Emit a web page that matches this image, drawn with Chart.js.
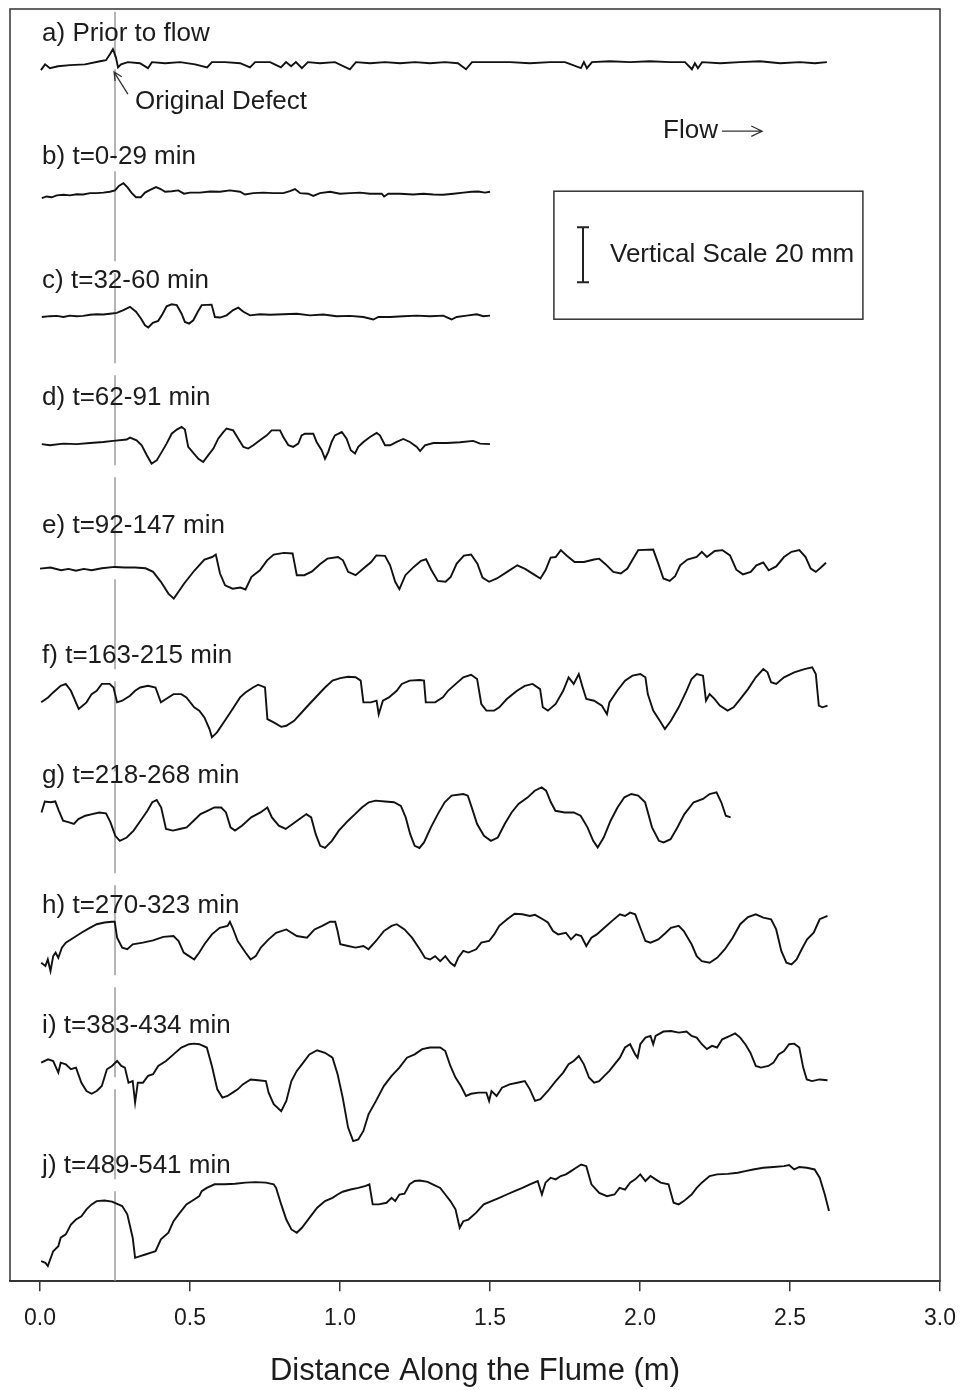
<!DOCTYPE html>
<html>
<head>
<meta charset="utf-8">
<script src="https://cdn.jsdelivr.net/npm/chart.js@4.4.1/dist/chart.umd.min.js"></script>
<style>
  html, body { margin: 0; padding: 0; background: #fff; }
</style>
</head>
<body>
<canvas id="flume" width="960" height="1390"></canvas>
<script>
// bed profiles, [distance m, elevation mm relative to the profile datum]
const profA = [[0.003,-2.5],[0.017,-0.4],[0.033,-1.8],[0.06,-1.1],[0.10,-0.7],[0.15,-0.4],[0.20,0.7],[0.22,1.1],[0.233,3.3],[0.243,5.1],[0.253,2.2],[0.26,-1.5],[0.27,-0.4],[0.293,0.4],[0.333,0],[0.36,-1.8],[0.373,0.4],[0.417,0],[0.467,0.4],[0.517,-0.4],[0.557,-1.5],[0.573,0.4],[0.617,0.4],[0.667,0],[0.70,-1.5],[0.717,0.4],[0.767,0.4],[0.803,-1.5],[0.82,0.4],[0.837,-1.1],[0.853,0.4],[0.873,-1.8],[0.893,0.4],[0.933,0],[0.983,0.4],[1.033,-2.2],[1.053,0.4],[1.10,0],[1.15,0.4],[1.20,0],[1.25,0.4],[1.30,0],[1.35,0.4],[1.393,0],[1.42,-2.2],[1.44,0.4],[1.50,0.4],[1.567,0.4],[1.633,0],[1.70,0.4],[1.75,0.4],[1.803,-1.8],[1.813,0.4],[1.823,-1.8],[1.84,0.4],[1.90,0.7],[1.967,0.4],[2.033,0.7],[2.10,0.4],[2.15,0.4],[2.173,-2.2],[2.183,0],[2.193,-1.8],[2.207,0.4],[2.267,0],[2.333,0.4],[2.40,0.7],[2.467,0],[2.533,0.4],[2.583,0],[2.623,0.4]];
const profB = [[0.006,-1.8],[0.022,-1.2],[0.039,-1.5],[0.056,-0.8],[0.078,-0.6],[0.1,-0.8],[0.122,-0.4],[0.144,-0.5],[0.167,0],[0.189,0],[0.211,0.2],[0.233,0.5],[0.25,1.0],[0.264,2.7],[0.278,3.6],[0.291,2.2],[0.306,0],[0.32,-1.5],[0.336,-1.5],[0.35,0.2],[0.367,1.2],[0.387,2.2],[0.402,1.5],[0.417,0.5],[0.439,0.7],[0.461,1.0],[0.48,-0.2],[0.5,0.2],[0.533,0.2],[0.567,0.6],[0.6,0.5],[0.633,1.0],[0.667,0.5],[0.683,-0.5],[0.711,0],[0.744,0.2],[0.778,0],[0.811,0],[0.833,0.7],[0.85,1.5],[0.867,0],[0.894,-0.2],[0.911,-1.0],[0.933,0],[0.967,0.5],[1.0,-0.2],[1.033,0],[1.067,0.2],[1.1,-0.2],[1.139,-0.2],[1.147,-1.2],[1.161,-0.2],[1.2,-0.2],[1.244,-0.5],[1.278,-0.2],[1.311,-0.5],[1.344,-0.6],[1.378,-0.2],[1.411,0.2],[1.439,0.5],[1.461,0.6],[1.483,0.2],[1.5,0.5]];
const profC = [[0.006,-0.4],[0.033,-0.1],[0.056,0],[0.078,-0.4],[0.1,0.1],[0.122,-0.1],[0.144,0],[0.167,0.4],[0.189,0.6],[0.211,0.5],[0.233,0.8],[0.256,1.1],[0.278,2.1],[0.3,3.3],[0.32,1.5],[0.337,-1.0],[0.35,-3.4],[0.361,-4.2],[0.376,-2.5],[0.394,-1.8],[0.409,0.8],[0.422,3.5],[0.439,4.2],[0.456,3.9],[0.472,0.8],[0.483,-2.2],[0.497,-2.8],[0.511,-1.6],[0.526,1.5],[0.539,3.9],[0.572,4.1],[0.583,-0.4],[0.6,-0.6],[0.622,0.2],[0.644,2.1],[0.661,3.0],[0.678,1.5],[0.7,0.2],[0.733,0.6],[0.767,0.4],[0.811,0.6],[0.856,0.8],[0.9,0.2],[0.944,0.5],[0.989,-0.1],[1.033,0],[1.078,-0.4],[1.111,-1.3],[1.128,-0.4],[1.167,-0.4],[1.211,-0.1],[1.256,0.1],[1.3,-0.1],[1.344,0.1],[1.372,-1.3],[1.389,-0.4],[1.422,0.1],[1.456,0.6],[1.478,-0.1],[1.5,0.1]];
const profD = [[0.006,-0.2],[0.033,-0.6],[0.078,0],[0.122,-0.2],[0.167,0.2],[0.211,0.6],[0.244,1.0],[0.289,1.5],[0.3,2.2],[0.322,1.2],[0.339,-0.6],[0.356,-4.2],[0.372,-7.3],[0.389,-6.1],[0.406,-3.0],[0.422,0],[0.439,3.6],[0.456,5.1],[0.472,6.1],[0.483,5.1],[0.494,-1.2],[0.511,-3.4],[0.528,-5.5],[0.544,-6.7],[0.561,-4.2],[0.578,-1.8],[0.594,1.8],[0.611,4.2],[0.622,5.5],[0.644,4.8],[0.661,1.8],[0.678,-1.2],[0.694,-1.8],[0.711,-0.6],[0.733,1.2],[0.756,3.0],[0.772,4.8],[0.8,4.8],[0.811,2.4],[0.828,-0.6],[0.844,-1.2],[0.861,0],[0.872,3.0],[0.883,3.6],[0.911,3.6],[0.922,0.6],[0.939,-2.4],[0.95,-5.5],[0.961,-3.0],[0.972,0.6],[0.983,3.0],[1.006,4.2],[1.022,1.8],[1.036,-2.4],[1.05,-3.6],[1.061,-1.2],[1.078,0.6],[1.1,2.4],[1.122,3.9],[1.133,3.0],[1.15,-0.6],[1.167,-0.6],[1.189,0.6],[1.211,1.7],[1.233,0.6],[1.256,-1.2],[1.267,-2.7],[1.283,-0.6],[1.311,0.2],[1.356,0.2],[1.4,0.5],[1.444,1.0],[1.467,0],[1.5,-0.2]];
const profE = [[0.0,0],[0.035,0.4],[0.07,-0.6],[0.095,-0.1],[0.12,-0.8],[0.146,-0.1],[0.172,-0.6],[0.206,0.1],[0.249,0.6],[0.283,0.4],[0.317,0.4],[0.352,0.1],[0.377,-1.2],[0.403,-4.8],[0.428,-9.1],[0.446,-10.9],[0.48,-5.5],[0.514,-0.8],[0.548,3.3],[0.574,4.2],[0.586,5.1],[0.6,-1.8],[0.617,-6.1],[0.642,-7.3],[0.668,-6.9],[0.685,-7.6],[0.705,-3.0],[0.733,-0.6],[0.757,3.0],[0.779,5.1],[0.813,5.7],[0.842,5.5],[0.856,-2.4],[0.881,-2.4],[0.907,-1.0],[0.933,1.6],[0.958,3.6],[0.993,4.2],[1.01,3.0],[1.027,-1.2],[1.052,-2.4],[1.078,0],[1.104,2.4],[1.121,4.8],[1.15,4.6],[1.167,1.2],[1.184,-4.8],[1.198,-7.5],[1.218,-2.4],[1.246,0.6],[1.27,2.8],[1.287,3.4],[1.304,-0.4],[1.326,-4.5],[1.352,-4.8],[1.369,-3.0],[1.389,1.8],[1.413,4.7],[1.437,5.1],[1.458,1.8],[1.475,-3.3],[1.497,-4.8],[1.523,-3.6],[1.557,-1.2],[1.591,1.2],[1.617,-0.1],[1.646,-2.1],[1.668,-3.6],[1.685,-0.6],[1.702,4.0],[1.719,4.2],[1.736,6.7],[1.757,4.6],[1.782,2.4],[1.813,2.4],[1.847,3.3],[1.864,3.6],[1.885,1.6],[1.911,-1.2],[1.936,-1.8],[1.958,0],[1.977,3.6],[1.994,6.7],[2.044,6.9],[2.061,1.8],[2.078,-3.6],[2.099,-4.5],[2.117,-2.8],[2.134,1.2],[2.158,3.3],[2.189,4.2],[2.206,6.1],[2.223,4.2],[2.249,6.4],[2.275,6.7],[2.3,4.8],[2.321,-0.4],[2.343,-2.1],[2.369,-1.2],[2.388,1.2],[2.411,2.2],[2.429,-0.6],[2.454,0.8],[2.48,4.2],[2.505,6.1],[2.531,6.7],[2.552,4.2],[2.569,0],[2.586,-1.2],[2.603,0.4],[2.62,2.1]];
const profF = [[0.004,-1.2],[0.027,0.6],[0.044,2.4],[0.069,4.8],[0.086,5.5],[0.103,3.0],[0.129,-3.6],[0.155,-1.2],[0.172,1.8],[0.189,3.0],[0.206,5.5],[0.232,5.5],[0.245,4.2],[0.257,-1.2],[0.274,-0.6],[0.3,1.2],[0.317,3.0],[0.334,4.2],[0.36,4.8],[0.385,4.2],[0.403,-1.2],[0.42,0],[0.445,1.8],[0.471,1.8],[0.488,0.6],[0.514,-3.0],[0.531,-4.2],[0.548,-6.7],[0.565,-10.9],[0.573,-13.9],[0.59,-12.1],[0.616,-7.9],[0.642,-3.6],[0.667,0.6],[0.685,2.4],[0.71,4.2],[0.727,5.2],[0.75,4.2],[0.758,-7.3],[0.779,-8.5],[0.804,-10.1],[0.821,-9.7],[0.847,-7.9],[0.873,-4.8],[0.898,-1.8],[0.924,1.2],[0.95,4.2],[0.975,6.7],[1.001,7.6],[1.027,8.1],[1.052,7.9],[1.069,6.7],[1.078,-1.2],[1.103,-1.2],[1.122,-0.6],[1.129,-5.5],[1.143,-0.6],[1.163,0.6],[1.189,3.0],[1.206,5.5],[1.232,6.7],[1.266,6.9],[1.28,6.7],[1.286,-1.2],[1.317,-1.2],[1.343,0.6],[1.36,3.0],[1.386,5.5],[1.411,7.9],[1.437,8.8],[1.457,7.3],[1.471,-1.8],[1.488,-4.2],[1.514,-4.2],[1.531,-3.0],[1.556,0],[1.59,3.0],[1.616,4.8],[1.642,5.5],[1.667,3.6],[1.676,-3.0],[1.693,-4.2],[1.719,-1.8],[1.744,3.0],[1.762,7.9],[1.779,5.5],[1.796,9.1],[1.809,4.2],[1.821,0],[1.847,-0.6],[1.873,-2.4],[1.89,-5.5],[1.898,-1.2],[1.924,3.0],[1.95,6.7],[1.975,8.5],[2.001,9.1],[2.018,7.9],[2.026,1.8],[2.044,-4.2],[2.066,-7.9],[2.083,-10.9],[2.103,-7.9],[2.129,-3.0],[2.155,3.0],[2.172,7.3],[2.189,9.1],[2.21,8.5],[2.22,-0.6],[2.232,1.8],[2.249,0],[2.266,-2.4],[2.292,-4.2],[2.312,-3.0],[2.334,0],[2.36,3.6],[2.386,7.9],[2.411,10.9],[2.425,9.7],[2.437,6.1],[2.454,5.5],[2.48,7.9],[2.514,9.7],[2.548,10.9],[2.574,11.5],[2.586,9.1],[2.596,-2.4],[2.608,-3.0],[2.625,-2.4]];
const profG = [[0.005,2.4],[0.016,6.4],[0.036,6.1],[0.051,6.4],[0.063,3.0],[0.077,-0.6],[0.097,-1.2],[0.113,-1.8],[0.128,0],[0.151,1.2],[0.174,1.8],[0.197,2.4],[0.22,2.1],[0.235,-1.2],[0.251,-6.1],[0.266,-7.9],[0.289,-6.7],[0.312,-4.2],[0.335,-0.6],[0.358,3.0],[0.374,6.1],[0.389,6.9],[0.404,4.2],[0.42,-3.6],[0.443,-4.2],[0.466,-3.6],[0.489,-3.0],[0.512,-0.6],[0.535,1.8],[0.558,3.0],[0.581,4.2],[0.604,4.2],[0.62,2.4],[0.635,-3.0],[0.65,-4.2],[0.673,-2.4],[0.704,0.6],[0.735,2.4],[0.758,4.2],[0.773,0.6],[0.796,-2.4],[0.819,-3.6],[0.842,-1.8],[0.865,0],[0.888,1.8],[0.904,0.6],[0.919,-5.5],[0.934,-9.7],[0.95,-10.5],[0.973,-7.9],[0.996,-4.2],[1.027,-0.6],[1.05,1.8],[1.073,4.2],[1.096,6.1],[1.119,6.7],[1.15,6.4],[1.18,6.1],[1.203,4.8],[1.219,0.6],[1.234,-5.5],[1.249,-9.7],[1.265,-10.5],[1.28,-8.5],[1.303,-3.0],[1.326,1.8],[1.349,6.1],[1.372,8.5],[1.411,9.1],[1.426,8.5],[1.441,3.6],[1.457,-1.8],[1.48,-6.1],[1.503,-7.9],[1.526,-6.7],[1.549,-1.8],[1.572,2.4],[1.595,5.5],[1.626,7.9],[1.649,10.3],[1.672,11.5],[1.687,10.3],[1.703,6.1],[1.718,3.0],[1.749,2.4],[1.779,2.4],[1.802,1.2],[1.825,-3.0],[1.844,-7.9],[1.859,-10.3],[1.879,-6.7],[1.902,-0.6],[1.925,4.2],[1.948,7.9],[1.971,9.1],[1.994,8.5],[2.017,6.1],[2.04,-3.0],[2.063,-7.9],[2.079,-8.5],[2.102,-7.3],[2.125,-3.0],[2.148,1.8],[2.179,6.1],[2.21,7.3],[2.232,9.1],[2.255,9.7],[2.271,6.1],[2.286,1.2],[2.302,0.6]];
const profH = [[0.004,-7.9],[0.018,-9.1],[0.026,-6.7],[0.035,-10.9],[0.044,-5.5],[0.052,-4.2],[0.061,-6.1],[0.073,-2.4],[0.086,-0.6],[0.112,1.2],[0.138,3.0],[0.163,4.6],[0.189,6.1],[0.215,6.7],[0.24,7.0],[0.249,7.0],[0.257,1.2],[0.274,-2.4],[0.291,-3.0],[0.309,-1.2],[0.343,-0.6],[0.377,0.2],[0.411,1.5],[0.445,1.8],[0.462,0],[0.479,-4.2],[0.497,-5.5],[0.514,-6.7],[0.531,-4.2],[0.548,-1.2],[0.573,2.4],[0.599,4.8],[0.625,5.5],[0.633,7.0],[0.642,4.8],[0.659,0],[0.685,-4.2],[0.702,-6.7],[0.719,-5.5],[0.736,-2.4],[0.762,0.6],[0.787,3.0],[0.821,4.2],[0.856,1.8],[0.89,1.2],[0.915,4.2],[0.941,5.5],[0.967,7.0],[0.984,7.0],[0.992,3.6],[1.001,-1.2],[1.027,-1.8],[1.052,-2.4],[1.078,-1.8],[1.095,-3.0],[1.12,0],[1.146,3.6],[1.172,5.5],[1.189,6.1],[1.215,4.2],[1.24,1.2],[1.266,-3.0],[1.283,-6.1],[1.3,-6.7],[1.317,-5.5],[1.334,-7.3],[1.351,-5.5],[1.368,-7.9],[1.382,-9.1],[1.394,-6.1],[1.411,-3.6],[1.428,-4.2],[1.454,-3.0],[1.471,-0.6],[1.497,0],[1.514,2.4],[1.531,5.5],[1.557,7.9],[1.582,9.9],[1.608,9.7],[1.633,9.1],[1.65,9.5],[1.676,7.9],[1.693,6.7],[1.71,3.6],[1.727,2.4],[1.753,3.0],[1.77,0.6],[1.787,2.4],[1.804,1.8],[1.821,-1.8],[1.838,1.2],[1.856,2.4],[1.881,4.8],[1.907,7.3],[1.933,9.7],[1.95,9.1],[1.967,10.3],[1.984,9.7],[2.001,4.8],[2.018,0],[2.035,-0.6],[2.061,0.6],[2.086,3.0],[2.103,4.8],[2.129,5.5],[2.146,3.6],[2.172,-1.2],[2.189,-5.5],[2.206,-7.3],[2.232,-7.9],[2.257,-6.1],[2.283,-3.0],[2.309,1.2],[2.334,6.1],[2.36,8.7],[2.386,9.7],[2.411,8.5],[2.437,7.9],[2.454,4.2],[2.471,-3.6],[2.488,-7.9],[2.505,-8.5],[2.522,-6.7],[2.539,-3.0],[2.557,0.6],[2.579,3.0],[2.599,7.9],[2.625,9.1]];
const profI = [[0.004,0.6],[0.027,1.8],[0.044,1.2],[0.061,-3.0],[0.069,0.6],[0.086,0],[0.103,-1.8],[0.12,-1.2],[0.138,-6.7],[0.155,-9.7],[0.172,-10.7],[0.189,-9.7],[0.206,-7.9],[0.223,-1.8],[0.24,-0.6],[0.257,1.2],[0.271,-0.6],[0.283,-1.2],[0.295,-6.7],[0.309,-6.1],[0.317,-13.9],[0.326,-6.7],[0.343,-6.7],[0.36,-4.2],[0.377,-3.6],[0.394,-0.6],[0.42,1.2],[0.445,3.6],[0.471,6.1],[0.497,7.3],[0.514,7.5],[0.531,7.3],[0.556,6.1],[0.573,-0.6],[0.591,-9.1],[0.608,-12.1],[0.625,-11.5],[0.642,-10.3],[0.659,-9.1],[0.676,-7.3],[0.702,-5.5],[0.727,-5.8],[0.753,-6.1],[0.762,-10.3],[0.779,-14.5],[0.804,-17.0],[0.821,-13.3],[0.838,-6.1],[0.856,-2.4],[0.873,0],[0.898,3.6],[0.924,5.1],[0.95,4.2],[0.975,2.4],[0.992,-3.6],[1.009,-12.1],[1.027,-23.0],[1.044,-27.9],[1.061,-27.3],[1.078,-24.2],[1.095,-18.2],[1.12,-13.3],[1.146,-7.9],[1.172,-4.2],[1.198,-1.2],[1.223,2.4],[1.249,3.6],[1.274,5.5],[1.3,6.1],[1.334,6.1],[1.351,4.8],[1.368,-0.6],[1.385,-4.8],[1.403,-7.9],[1.42,-11.5],[1.437,-10.7],[1.462,-10.3],[1.488,-10.3],[1.497,-13.3],[1.505,-9.7],[1.522,-11.5],[1.54,-8.5],[1.565,-7.3],[1.591,-6.7],[1.616,-6.1],[1.633,-9.1],[1.65,-13.3],[1.668,-12.7],[1.693,-9.7],[1.719,-6.1],[1.744,-3.0],[1.762,0],[1.779,1.2],[1.796,3.0],[1.813,0],[1.83,-4.8],[1.847,-6.7],[1.864,-6.1],[1.881,-4.2],[1.898,-2.4],[1.915,0],[1.933,2.4],[1.95,6.1],[1.967,7.3],[1.984,3.6],[1.992,2.4],[2.001,7.3],[2.018,9.7],[2.035,10.3],[2.044,7.3],[2.052,10.3],[2.078,11.9],[2.103,12.1],[2.129,11.5],[2.155,11.9],[2.172,10.3],[2.189,9.7],[2.206,7.3],[2.223,5.5],[2.24,6.7],[2.257,6.1],[2.274,9.1],[2.3,10.3],[2.317,11.2],[2.334,9.7],[2.351,7.3],[2.368,4.2],[2.386,-0.6],[2.403,-1.2],[2.428,-0.6],[2.445,0.6],[2.462,3.6],[2.48,4.8],[2.497,7.3],[2.514,7.5],[2.531,6.1],[2.544,-1.2],[2.556,-5.5],[2.573,-6.1],[2.599,-5.5],[2.625,-5.8]];
const profJ = [[0.004,-21.8],[0.018,-22.4],[0.026,-23.6],[0.044,-18.2],[0.061,-16.4],[0.069,-13.3],[0.086,-12.1],[0.103,-8.5],[0.12,-6.7],[0.138,-5.5],[0.155,-3.0],[0.172,-1.2],[0.189,0],[0.215,0.2],[0.24,-0.2],[0.257,-1.0],[0.274,-1.8],[0.291,-4.8],[0.309,-13.3],[0.317,-20.6],[0.334,-20.0],[0.351,-19.4],[0.368,-18.8],[0.385,-18.2],[0.403,-13.9],[0.428,-11.5],[0.445,-7.3],[0.462,-4.8],[0.488,-1.2],[0.514,0.6],[0.531,1.8],[0.539,3.6],[0.556,4.8],[0.582,6.1],[0.616,6.1],[0.65,6.3],[0.685,6.7],[0.719,6.9],[0.753,6.7],[0.779,6.1],[0.787,4.8],[0.804,-1.2],[0.821,-6.7],[0.838,-10.3],[0.856,-11.5],[0.873,-9.7],[0.898,-6.1],[0.924,-2.4],[0.95,0],[0.975,1.2],[0.992,2.4],[1.009,3.4],[1.035,4.2],[1.061,4.8],[1.086,5.5],[1.098,6.1],[1.109,-1.2],[1.129,-1.2],[1.155,-0.6],[1.172,1.2],[1.184,0],[1.198,2.4],[1.215,2.7],[1.232,6.1],[1.249,7.3],[1.266,7.5],[1.292,7.0],[1.309,6.1],[1.334,4.8],[1.351,2.4],[1.368,0],[1.385,-3.0],[1.399,-9.7],[1.411,-7.3],[1.428,-6.7],[1.454,-4.2],[1.479,-1.2],[1.505,0],[1.531,1.2],[1.556,2.4],[1.582,3.6],[1.608,4.8],[1.633,6.1],[1.659,7.3],[1.673,2.4],[1.685,6.7],[1.702,8.5],[1.719,7.9],[1.736,9.1],[1.753,9.7],[1.77,10.9],[1.787,12.1],[1.804,13.3],[1.821,12.7],[1.838,6.1],[1.864,3.0],[1.89,1.8],[1.915,2.4],[1.932,4.8],[1.95,4.2],[1.967,6.7],[1.984,7.9],[2.001,9.7],[2.018,7.3],[2.035,9.1],[2.052,7.9],[2.069,6.7],[2.095,6.1],[2.112,-0.6],[2.129,-1.2],[2.146,0],[2.172,2.4],[2.189,4.8],[2.206,6.7],[2.232,9.1],[2.257,9.7],[2.292,9.9],[2.326,10.3],[2.351,10.9],[2.377,11.5],[2.411,12.1],[2.445,12.4],[2.48,12.7],[2.497,13.1],[2.514,11.5],[2.531,12.4],[2.556,12.1],[2.582,11.5],[2.599,8.5],[2.616,2.4],[2.63,-3.6]];

const profiles = [profA, profB, profC, profD, profE, profF, profG, profH, profI, profJ];
// vertical stacking datum of each profile (mm on the plot scale)
const offsets = [442.5, 395.3, 350.7, 304.3, 258.9, 211.5, 167.9, 123.6, 78.8, 29.1];
const panelLabels = ['a) Prior to flow', 'b) t=0-29 min', 'c) t=32-60 min', 'd) t=62-91 min', 'e) t=92-147 min',
                     'f) t=163-215 min', 'g) t=218-268 min', 'h) t=270-323 min', 'i) t=383-434 min', 'j) t=489-541 min'];
const labelLevels = [453.1, 408.4, 363.6, 321.1, 274.5, 227.3, 183.6, 136.4, 92.7, 41.8];
const tickValues = [0.0, 0.5, 1.0, 1.5, 2.0, 2.5, 3.0];
const defectX = 0.25;
const scaleBarMm = 20;

const yTop = 462.2;
const FONT = '"Liberation Sans", Arial, Helvetica, sans-serif';
const INK = '#1c1c1c';

const datasets = profiles.map((p, i) => ({
    data: p.map(([x, z]) => ({x: x, y: offsets[i] + z})),
    borderColor: '#111',
    borderWidth: 1.9,
    pointRadius: 0,
    showLine: true,
    fill: false,
    order: 1
}));
// dashed line through the original defect
datasets.push({
    data: [{x: defectX, y: 0}, {x: defectX, y: yTop - 1}],
    borderColor: '#b5b5b5',
    borderWidth: 2,
    borderDash: [90, 12],
    pointRadius: 0,
    showLine: true,
    order: 3
});
// vertical scale bar inside the key box
datasets.push({
    data: [{x: 1.81, y: 362.9}, {x: 1.81, y: 362.9 + scaleBarMm}],
    borderColor: '#222',
    borderWidth: 2,
    pointStyle: 'line',
    pointRadius: 6,
    pointBorderWidth: 2,
    pointBorderColor: '#222',
    showLine: true,
    order: 1
});

function arrow(ctx, x0, y0, x1, y1, size){
    const a = Math.atan2(y1 - y0, x1 - x0);
    ctx.beginPath();
    ctx.moveTo(x0, y0);
    ctx.lineTo(x1, y1);
    ctx.moveTo(x1 - size * Math.cos(a - 0.45), y1 - size * Math.sin(a - 0.45));
    ctx.lineTo(x1, y1);
    ctx.lineTo(x1 - size * Math.cos(a + 0.45), y1 - size * Math.sin(a + 0.45));
    ctx.stroke();
}

const decor = {
    id: 'decor',
    afterDraw(chart){
        const {ctx, chartArea: a, scales: {x, y}} = chart;
        ctx.save();
        // plot frame
        ctx.strokeStyle = '#333';
        ctx.lineWidth = 1.5;
        ctx.strokeRect(a.left, a.top, a.right - a.left, a.bottom - a.top);

        // key box
        const bx0 = x.getPixelForValue(1.713), bx1 = x.getPixelForValue(2.743);
        const by0 = y.getPixelForValue(396.0), by1 = y.getPixelForValue(349.5);
        ctx.strokeRect(bx0, by0, bx1 - bx0, by1 - by0);

        ctx.fillStyle = INK;
        ctx.textBaseline = 'middle';
        ctx.textAlign = 'left';
        ctx.font = '26px ' + FONT;
        ctx.fillText('Vertical Scale 20 mm', x.getPixelForValue(1.9), y.getPixelForValue(372.9));

        // panel labels
        panelLabels.forEach((t, i) => {
            ctx.fillText(t, x.getPixelForValue(0.007), y.getPixelForValue(labelLevels[i]));
        });

        // original defect note
        ctx.fillText('Original Defect', x.getPixelForValue(0.317), y.getPixelForValue(428.4));
        ctx.strokeStyle = '#333';
        ctx.lineWidth = 1.3;
        arrow(ctx, x.getPixelForValue(0.293), y.getPixelForValue(431.3),
                   x.getPixelForValue(0.247), y.getPixelForValue(439.3), 9);

        // flow direction
        ctx.fillText('Flow', x.getPixelForValue(2.077), y.getPixelForValue(417.8));
        arrow(ctx, x.getPixelForValue(2.273), y.getPixelForValue(417.8),
                   x.getPixelForValue(2.407), y.getPixelForValue(417.8), 12);
        ctx.restore();
    }
};

new Chart(document.getElementById('flume'), {
    type: 'scatter',
    data: {datasets: datasets},
    options: {
        responsive: false,
        animation: false,
        devicePixelRatio: 1,
        layout: {autoPadding: false, padding: {left: 10, right: 20, top: 9, bottom: 0}},
        plugins: {legend: {display: false}, tooltip: {enabled: false}},
        scales: {
            x: {
                type: 'linear',
                min: -0.1,
                max: 3.0,
                afterBuildTicks: s => { s.ticks = tickValues.map(v => ({value: v})); },
                // keep the edge labels from pushing the plot frame inwards
                afterFit: s => { s.paddingLeft = 0; s.paddingRight = 0; },
                ticks: {
                    callback: v => Number(v).toFixed(1),
                    font: {size: 23, family: FONT},
                    color: INK,
                    padding: 14,
                    maxRotation: 0,
                    autoSkip: false
                },
                grid: {drawOnChartArea: false, drawTicks: true, tickLength: 10, color: '#333', lineWidth: 1.5},
                border: {display: true, color: '#333', width: 1.5},
                title: {
                    display: true,
                    text: 'Distance Along the Flume (m)',
                    font: {size: 31, family: FONT},
                    color: INK,
                    padding: {top: 6, bottom: 0}
                }
            },
            y: {type: 'linear', display: false, min: 0, max: yTop}
        }
    },
    plugins: [decor]
});
</script>
</body>
</html>
